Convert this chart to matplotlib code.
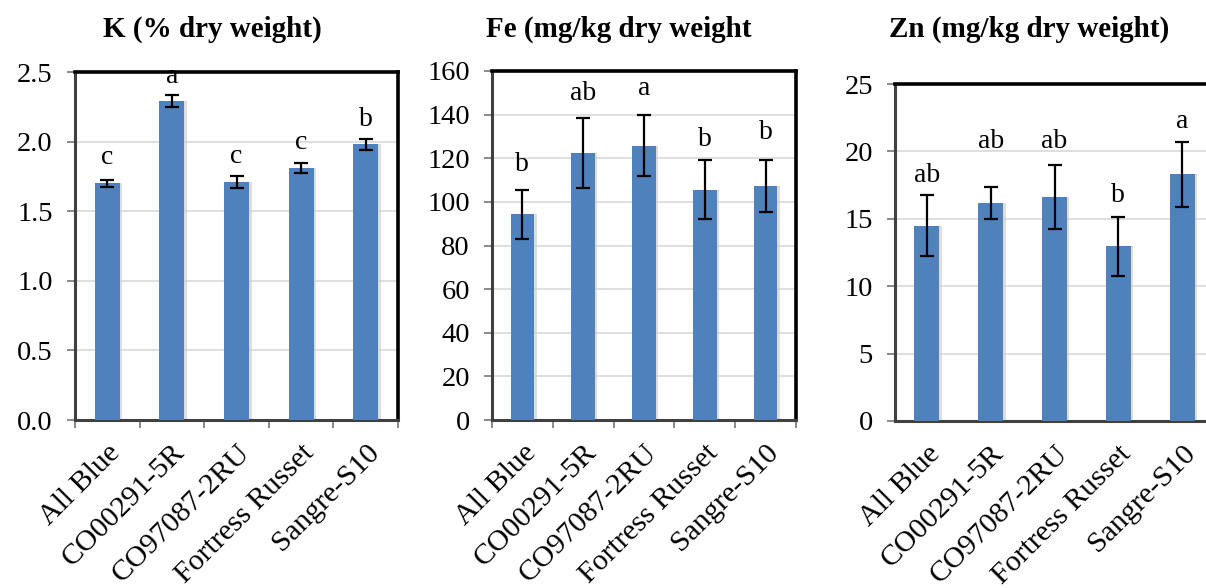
import matplotlib
matplotlib.use("Agg")
import matplotlib.pyplot as plt
import numpy as np

plt.rcParams["font.family"] = ["Liberation Serif", "DejaVu Serif"]

cultivars = ["All Blue", "CO00291-5R", "CO97087-2RU", "Fortress Russet", "Sangre-S10"]

k_mean = [1.70, 2.29, 1.71, 1.81, 1.98]
k_err = [0.023, 0.042, 0.044, 0.037, 0.038]
k_letters = ["c", "a", "c", "c", "b"]

fe_mean = [94.4, 122.4, 125.8, 105.6, 107.3]
fe_err = [11.2, 16.2, 13.9, 13.5, 11.9]
fe_letters = ["b", "ab", "a", "b", "b"]

zn_mean = [14.5, 16.15, 16.6, 12.95, 18.3]
zn_err = [2.23, 1.19, 2.38, 2.18, 2.41]
zn_letters = ["ab", "ab", "ab", "b", "a"]

BAR = "#4F81BD"
W, H = 1206, 588

# panel spec: data, axis limits, pixel box (left, top, right, bottom), title pos
panels = [
    dict(mean=k_mean, err=k_err, letters=k_letters, title="K (% dry weight)",
         ylim=2.5, step=0.5, fmt="{:.1f}", box=(75, 72, 398, 420),
         title_x=212, pads=[16, 12, 13, 14, 13], xticks=True),
    dict(mean=fe_mean, err=fe_err, letters=fe_letters, title="Fe (mg/kg dry weight",
         ylim=160, step=20, fmt="{:.0f}", box=(492, 71, 796, 420),
         title_x=619, pads=[19, 18, 20, 14, 21], xticks=True),
    dict(mean=zn_mean, err=zn_err, letters=zn_letters, title="Zn (mg/kg dry weight)",
         ylim=25, step=5, fmt="{:.0f}", box=(895, 84, 1214, 421),
         title_x=1029, pads=[13, 39, 17, 15, 14], xticks=False),
]

fig = plt.figure(figsize=(W / 100, H / 100), dpi=100)

for p in panels:
    l, t, r, b = p["box"]
    ax = fig.add_axes([l / W, 1 - b / H, (r - l) / W, (b - t) / H])
    x = np.arange(len(cultivars))

    # soft drop shadow behind each bar, then the bar itself
    ax.bar(x + 0.03, p["mean"], width=0.41, color="#cfcfcf", alpha=0.7,
           lw=0, zorder=2)
    ax.bar(x, p["mean"], width=0.39, color=BAR, lw=0, zorder=3)
    ax.errorbar(x, p["mean"], yerr=p["err"], fmt="none", ecolor="black",
                elinewidth=1.6, capsize=5, capthick=1.6, zorder=4)

    for xi, m, e, lab, pad in zip(x, p["mean"], p["err"], p["letters"], p["pads"]):
        ax.annotate(lab, (xi, m + e), xytext=(0, pad), textcoords="offset pixels",
                    ha="center", va="baseline", fontsize=20)

    ax.set_xlim(-0.5, len(cultivars) - 0.5)
    ax.set_ylim(0, p["ylim"])
    yt = np.arange(0, p["ylim"] + p["step"] / 2, p["step"])
    ax.set_yticks(yt)
    ax.set_yticklabels([p["fmt"].format(v) for v in yt], fontsize=20.5)
    ax.yaxis.grid(True, color="#d9d9d9", lw=1.2, zorder=0)
    ax.set_axisbelow(True)

    ax.set_xticks(x)
    ax.set_xticklabels(cultivars, rotation=45, ha="right",
                       rotation_mode="anchor", fontsize=21.5)
    ax.tick_params(axis="x", length=0, pad=14)
    if p["xticks"]:
        ax.set_xticks(np.arange(-0.5, len(cultivars)), minor=True)
        ax.tick_params(axis="x", which="minor", length=6, width=1.3,
                       color="#808080", direction="out")
    ax.tick_params(axis="y", length=6, width=1.3, color="#808080",
                   direction="out", pad=10)

    for side in ("top", "right"):
        ax.spines[side].set_color("black")
        ax.spines[side].set_linewidth(2.6)
    for side in ("left", "bottom"):
        ax.spines[side].set_color("#404040")
        ax.spines[side].set_linewidth(2.2)

    fig.text(p["title_x"] / W, 1 - 29 / H, p["title"], ha="center", va="center",
             fontsize=21, fontweight="bold")

fig.savefig("out.png", dpi=100)
